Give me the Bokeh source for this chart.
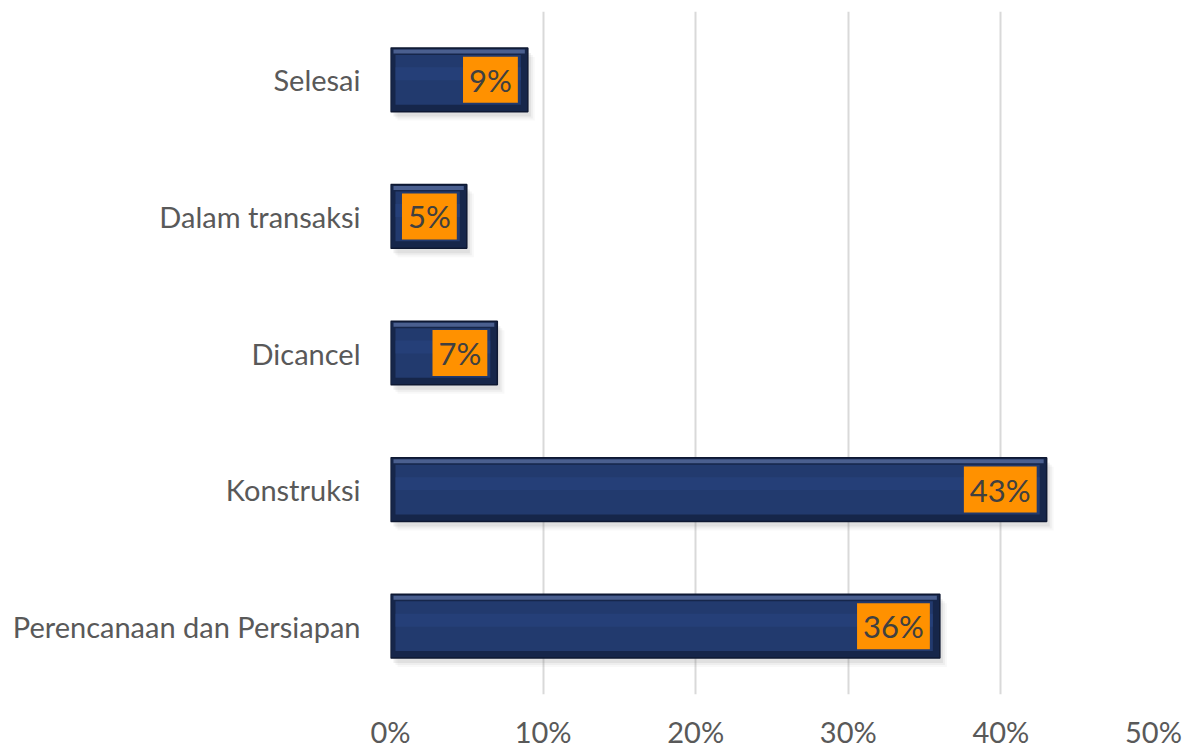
from bokeh.plotting import figure
from bokeh.models import FixedTicker, ColumnDataSource
from bokeh.embed import file_html
from bokeh.resources import INLINE
from bokeh.core.properties import value

categories = ["Perencanaan dan Persiapan", "Konstruksi", "Dicancel", "Dalam transaksi", "Selesai"]
values = [36, 43, 7, 5, 9]
x_ticks = [0, 10, 20, 30, 40, 50]
x_tick_labels = ["0%", "10%", "20%", "30%", "40%", "50%"]
labels = [f"{v}%" for v in values]

ys = list(range(len(categories)))
src = ColumnDataSource(dict(y=ys, v=values, lab=labels))

p = figure(width=1187, height=751, output_backend="svg", toolbar_location=None,
           x_range=(0, 50), y_range=(-0.5, len(categories) - 0.5),
           min_border_left=390, min_border_right=34, min_border_top=11, min_border_bottom=54)
p.outline_line_color = None
p.background_fill_color = "white"
p.border_fill_color = "white"

# grid
p.xgrid.ticker = FixedTicker(ticks=x_ticks)
p.xgrid.grid_line_color = "#d9d9d9"
p.xgrid.grid_line_width = 2
p.ygrid.grid_line_color = None

# axes
p.xaxis.ticker = FixedTicker(ticks=x_ticks)
p.xaxis.major_label_overrides = {t: l for t, l in zip(x_ticks, x_tick_labels)}
p.yaxis.ticker = FixedTicker(ticks=ys)
p.yaxis.major_label_overrides = {i: c for i, c in zip(ys, categories)}
for ax in (p.xaxis[0], p.yaxis[0]):
    ax.axis_line_color = None
    ax.major_tick_line_color = None
    ax.minor_tick_line_color = None
    ax.major_label_text_font = "Lato"
    ax.major_label_text_font_size = "29px"
    ax.major_label_text_color = "#595959"
p.xaxis.major_tick_out = 0
p.xaxis.major_tick_in = 0
p.xaxis.major_label_text_line_height = 0.9
p.xaxis.major_label_standoff = 19
p.yaxis.major_label_standoff = 24

px = 50 / 763.0
py = 1 / 137.3
h = 0.466

# soft shadow
for dx, dy, a in [(7, 9, 0.05), (5, 7, 0.08), (3, 5, 0.12)]:
    p.hbar(y=[y - dy * py for y in ys], left=[dx * px] * len(ys), right=[v + dx * px for v in values],
           height=h, fill_color="#7f7f7f", fill_alpha=a, line_color=None)

# bar body
p.hbar(y="y", left=0, right="v", height=h, source=src,
       fill_color="#16264a", line_color="#0e1832", line_width=1.5)
# bevel bands
p.hbar(y=[y + h / 2 - 3.5 * py for y in ys], left=[3 * px] * len(ys), right=[v - 3 * px for v in values],
       height=4 * py, fill_color="#4a5f8f", line_color=None)
p.hbar(y=ys, left=[5 * px] * len(ys), right=[v - 7 * px for v in values],
       height=h - 14 * py, fill_color="#223a6e", line_color=None)
p.hbar(y=[y + 6 * py for y in ys], left=[5 * px] * len(ys), right=[v - 7 * px for v in values],
       height=(h - 14 * py) / 2 - 12 * py, fill_color="#27417a", line_color=None, fill_alpha=0.8)

# value labels
p.text(x="v", y="y", text="lab", source=src, x_offset=-10, text_align="right",
       text_baseline="middle", text_font=value("Lato"), text_font_size="31px",
       text_color="#404040", background_fill_color="#ff9100",
       padding=dict(left=6, right=6, top=4, bottom=4))

open("out.html", "w").write(file_html(p, INLINE))
